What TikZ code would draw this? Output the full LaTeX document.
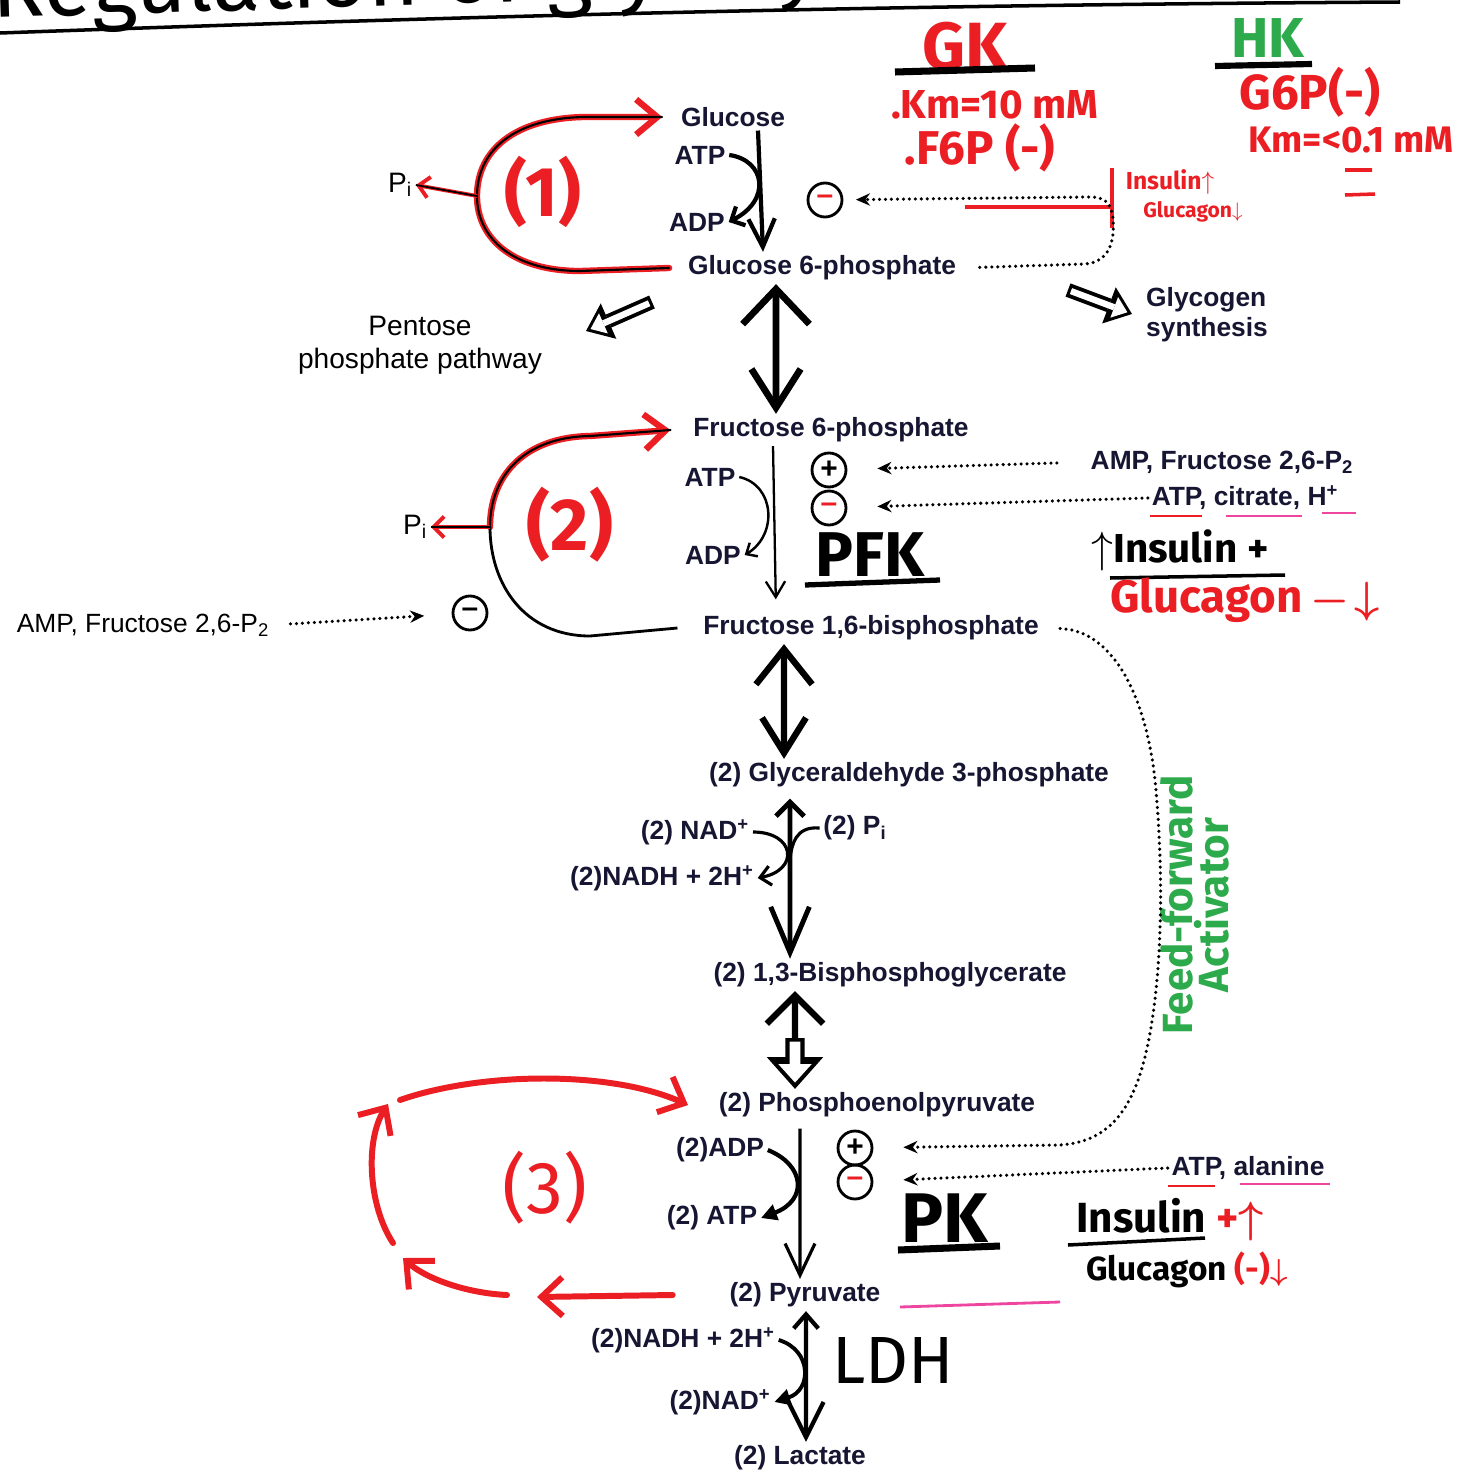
\documentclass[tikz,border=0pt]{standalone}
\usepackage{fontspec}
\setmainfont{Liberation Sans}
\newfontfamily\handfont{Fira Sans}
\usetikzlibrary{arrows.meta}

\definecolor{ink}{RGB}{22,22,50}
\definecolor{marker}{RGB}{235,30,35}
\definecolor{leaf}{RGB}{45,170,75}
\definecolor{pinkmark}{RGB}{238,70,160}

\tikzset{
	metab/.style={font=\fontsize{15}{17}\selectfont\bfseries, text=ink, inner sep=2pt},
	plain/.style={font=\fontsize{16}{19}\selectfont, inner sep=2pt},
	hand/.style={font=\handfont\bfseries\fontsize{#1}{#1}\selectfont, inner sep=0pt},
	handthin/.style={font=\handfont\fontsize{#1}{#1}\selectfont, inner sep=0pt},
	sign/.style={circle, draw, line width=1.6pt, minimum size=0.68cm, inner sep=0pt, font=\fontsize{17}{17}\selectfont\bfseries},
	reg/.style={line width=2pt, dash pattern=on 0pt off 3.4pt, line cap=round, -{Stealth[length=8pt,width=7pt]}},
	loopline/.style={marker, line width=3.6pt, line cap=round, -{Straight Barb[length=12pt,width=20pt]}, postaction={draw=black, line width=1.2pt, -}},
	piarrow/.style={marker, line width=2.2pt, -{Straight Barb[length=6pt,width=12pt]}, postaction={draw=black, line width=1pt, -}},
	cycarrow/.style={marker, line width=3.4pt, line cap=round, -{Straight Barb[length=12pt,width=22pt]}},
	blockarrow/.style={line width=8pt, -{Triangle[length=14pt,width=22pt,line width=0pt]}, postaction={draw=white, line width=3.6pt, shorten <=1.8pt, shorten >=2.8pt, -{Triangle[length=8pt,width=12.5pt,line width=0pt]}}},
	bigblock/.style={line width=11pt, -{Triangle[length=18pt,width=32pt,line width=0pt]}, postaction={draw=white, line width=6pt, shorten <=2pt, shorten >=3.6pt, -{Triangle[length=10.5pt,width=19pt,line width=0pt]}}},
}

\begin{document}
\begin{tikzpicture}[x=0.02cm, y=-0.02cm]
	\fill[white] (0,0) rectangle (1481,1477);
	\useasboundingbox (0,0) rectangle (1481,1477);

	\node[handthin=50, anchor=base west, rotate=1.8] (title) at (-8,18) {Regulation of glycolysis};
	\draw[line width=2pt] (0,33) .. controls (500,15) and (900,5) .. (1400,2);

	\node[metab] (glc) at (733,117) {Glucose};
	\node[metab] (atpa) at (700,155) {ATP};
	\node[metab] (adpa) at (697,222) {ADP};
	\node[metab] (gsp) at (822,268) {Glucose 6-phosphate};
	\node[plain] (pia) at (400,185) {P\textsubscript{i}};
	\node[plain, align=center] (ppp) at (420,345) {Pentose\\phosphate pathway};
	\node[metab, align=left] (gly) at (1207,315) {Glycogen\\synthesis};
	\node[sign] (gkm) at (825,200) {\textcolor{marker}{--}};

	\node[hand=38, text=marker] (gk) at (965,46) {GK};
	\draw[line width=4pt] (895,72) -- (1035,68);
	\node[hand=23, text=marker] (gkkm) at (995,105) {.Km=10 mM};
	\node[hand=27, text=marker] (gkfp) at (980,148) {.F6P (-)};
	\node[hand=32, text=leaf] (hk) at (1268,38) {HK};
	\draw[line width=3.5pt] (1215,66) -- (1312,64);
	\node[hand=28, text=marker] (hkgp) at (1310,92) {G6P(-)};
	\node[hand=21, text=marker] (hkkm) at (1351,140) {Km=<0.1 mM};
	\draw[marker, line width=2pt] (1345,170) -- (1372,170) (1345,195) -- (1375,194);
	\node[hand=14, text=marker] (insa) at (1170,182) {Insulin$\uparrow$};
	\node[hand=12, text=marker] (glua) at (1193,212) {Glucagon$\downarrow$};
	\draw[marker, line width=2pt] (965,207) -- (1110,207) (1112,168) -- (1112,228);

	\node[metab] (fsp) at (831,430) {Fructose 6-phosphate};
	\node[metab] (atpb) at (710,477) {ATP};
	\node[metab] (adpb) at (713,555) {ADP};
	\node[metab] (fbp) at (871,628) {Fructose 1,6-bisphosphate};
	\node[plain] (pib) at (415,527) {P\textsubscript{i}};
	\node[plain, font=\fontsize{15}{17}\selectfont] (ampb) at (143,625) {AMP, Fructose 2,6-P\textsubscript{2}};
	\node[sign] (fbpm) at (470,613) {--};
	\node[sign] (pfkp) at (829,470) {+};
	\node[sign] (pfkm) at (829,508) {\textcolor{marker}{--}};
	\node[metab] (pfkact) at (1222,462) {AMP, Fructose 2,6-P\textsubscript{2}};
	\node[metab] (pfkinh) at (1245,498) {ATP, citrate, H\textsuperscript{+}};
	\draw[marker, line width=1.6pt] (1150,516) -- (1202,516);
	\draw[pinkmark, line width=1.6pt] (1226,516) -- (1302,516) (1322,513) -- (1356,513);
	\node[hand=36] (pfk) at (870,555) {PFK};
	\draw[line width=3pt] (805,585) -- (940,580);
	\node[hand=23] (insb) at (1180,550) {$\uparrow$Insulin +};
	\draw[line width=2pt] (1110,578) -- (1285,575);
	\node[hand=26, text=marker] (glub) at (1245,600) {Glucagon\,{\boldmath$-\!\downarrow$}};

	\node[metab] (gap) at (909,775) {(2) Glyceraldehyde 3-phosphate};
	\node[metab] (nada) at (695,832) {(2) NAD\textsuperscript{+}};
	\node[metab] (pic) at (855,828) {(2) P\textsubscript{i}};
	\node[metab] (nadha) at (662,878) {(2)NADH + 2H\textsuperscript{+}};
	\node[metab] (bpg) at (890,975) {(2) 1,3-Bisphosphoglycerate};
	\node[metab] (pep) at (877,1105) {(2) Phosphoenolpyruvate};
	\node[metab] (adpc) at (720,1150) {(2)ADP};
	\node[metab] (atpc) at (712,1218) {(2) ATP};
	\node[sign] (pkp) at (855,1148) {+};
	\node[sign] (pkm) at (855,1182) {\textcolor{marker}{--}};
	\node[metab] (pkinh) at (1248,1168) {ATP, alanine};
	\draw[marker, line width=1.6pt] (1168,1186) -- (1215,1186);
	\draw[pinkmark, line width=1.6pt] (1240,1184) -- (1330,1184);
	\node[hand=40] (pk) at (945,1218) {PK};
	\draw[line width=4pt] (898,1250) -- (1000,1246);
	\node[hand=24, anchor=west] (insc) at (1076,1220) {Insulin \textcolor{marker}{+{\boldmath$\uparrow$}}};
	\draw[line width=2pt] (1068,1245) -- (1205,1238);
	\node[hand=19, anchor=west] (gluc) at (1086,1270) {Glucagon \textcolor{marker}{(-){\boldmath$\downarrow$}}};
	\node[metab] (pyr) at (805,1295) {(2) Pyruvate};
	\draw[pinkmark, line width=1.6pt] (900,1307) -- (1060,1302);
	\node[metab] (nadhb) at (683,1340) {(2)NADH + 2H\textsuperscript{+}};
	\node[metab] (nadb) at (720,1402) {(2)NAD\textsuperscript{+}};
	\node[handthin=38] (ldh) at (893,1360) {LDH};
	\node[metab] (lac) at (800,1458) {(2) Lactate};

	\node[hand=24, text=leaf, rotate=90] (ffa) at (1177,905) {Feed-forward};
	\node[hand=24, text=leaf, rotate=90] (ffb) at (1212,905) {Activator};

	\node[hand=40, text=marker] (ca) at (543,192) {(1)};
	\node[hand=42, text=marker] (cb) at (570,525) {(2)};
	\node[handthin=42, text=marker] (cc) at (545,1188) {(3)};

	\draw[line width=2.4pt, -{Straight Barb[length=16pt,width=15pt]}] ([xshift=0.5cm]glc.south) -- ([xshift=-1.18cm]gsp.north);
	\draw[line width=2.4pt, -{Straight Barb[length=6pt,width=12pt]}] (atpa.east) .. controls (765,160) and (772,200) .. (adpa.east);
	\draw[line width=3.8pt, {Straight Barb[length=20pt,width=38pt]}-{Straight Barb[length=22pt,width=28pt]}] ([xshift=-0.92cm]gsp.south) -- ([xshift=-1.1cm]fsp.north);
	\draw[line width=1.3pt, -{Straight Barb[length=9pt,width=11pt]}, shorten >=0.25cm] ([xshift=-1.16cm]fsp.south) -- ([xshift=-1.9cm]fbp.north);
	\draw[line width=1.4pt, -{Straight Barb[length=5pt,width=9pt]}] (atpb.east) .. controls (775,485) and (778,535) .. (adpb.east);
	\draw[line width=3.6pt, {Straight Barb[length=20pt,width=32pt]}-{Straight Barb[length=20pt,width=25pt]}] ([xshift=-1.74cm]fbp.south) -- ([xshift=-2.5cm]gap.north);
	\draw[line width=2.8pt, {Straight Barb[length=8pt,width=16pt]}-{Straight Barb[length=26pt,width=22pt]}, shorten <=0.15cm] ([xshift=-2.38cm]gap.south) -- ([xshift=-2cm]bpg.north);
	\coordinate (gapjoin) at (790,858);
	\draw[line width=1.8pt, -{Straight Barb[length=6pt,width=11pt]}] (nada.east) .. controls (795,832) and (800,870) .. (nadha.east);
	\draw[line width=1.8pt] (pic.west) .. controls (795,826) and (792,845) .. (gapjoin);
	\coordinate (bpgmid) at (795,1038);
	\draw[line width=3.5pt, -{Straight Barb[length=16pt,width=32pt]}] (bpgmid) -- ([xshift=-1.9cm]bpg.south);
	\draw[bigblock] (bpgmid) -- ([xshift=-1.64cm]pep.north);
	\draw[line width=1.8pt, -{Straight Barb[length=18pt,width=17pt]}, shorten <=0.15cm] ([xshift=-1.54cm]pep.south) -- ([xshift=-0.1cm]pyr.north);
	\draw[line width=2.4pt, -{Triangle[length=9pt,width=9pt]}] (adpc.east) .. controls (805,1165) and (808,1200) .. (atpc.east);
	\draw[line width=2.4pt, {Straight Barb[length=8pt,width=14pt]}-{Straight Barb[length=20pt,width=20pt]}] ([xshift=0.02cm]pyr.south) -- ([xshift=0.12cm]lac.north);
	\draw[line width=2.2pt, -{Triangle[length=9pt,width=9pt]}] (nadhb.east) .. controls (812,1350) and (812,1390) .. (nadb.east);

	\coordinate (pppa) at (652,302);
	\coordinate (pppb) at (586,331);
	\coordinate (glya) at (1068,290);
	\coordinate (glyb) at (1132,314);
	\draw[blockarrow] (pppa) -- (pppb);
	\draw[blockarrow] (glya) -- (glyb);

	\coordinate (loopa) at (477,196);
	\coordinate (loopb) at (490,527);
	\draw[loopline] ([xshift=-0.3cm]gsp.west) -- (580,271) .. controls (515,271) and (477,240) .. (loopa) .. controls (477,150) and (515,118) .. (585,117) -- ([xshift=-0.3cm]glc.west);
	\draw[piarrow] (loopa) -- (pia.east);
	\draw[loopline] (loopb) .. controls (490,475) and (525,437) .. (590,436) -- ([xshift=-0.38cm]fsp.west);
	\draw[line width=1.6pt] ([xshift=-0.44cm]fbp.west) -- (590,636) .. controls (525,636) and (490,585) .. (loopb);
	\draw[piarrow] (loopb) -- (pib.east);

	\coordinate (cyca) at (400,1100);
	\coordinate (cycb) at (393,1243);
	\coordinate (cycc) at (388,1104);
	\coordinate (cycd) at (507,1295);
	\coordinate (cyce) at (403,1258);
	\coordinate (cycf) at (537,1297);
	\draw[cycarrow] (cyca) .. controls (480,1072) and (610,1070) .. ([xshift=-0.54cm]pep.west);
	\draw[cycarrow] (cycb) .. controls (368,1205) and (365,1140) .. (cycc);
	\draw[cycarrow] (cycd) .. controls (465,1293) and (425,1278) .. (cyce);
	\draw[cycarrow] ([xshift=-1.06cm]pyr.west) -- (cycf);

	\draw[reg, shorten <=0.4cm, shorten >=0.25cm] (gsp.east) -- (1085,264) .. controls (1110,262) and (1115,240) .. (1113,218) .. controls (1111,203) and (1105,197) .. (1090,197) -- (gkm);
	\draw[reg, shorten <=0.6cm, shorten >=0.6cm] (pfkact.west) -- (pfkp);
	\draw[reg, shorten >=0.6cm] (pfkinh.west) -- (pfkm);
	\draw[reg, shorten <=0.35cm, shorten >=0.55cm] (ampb.east) -- (fbpm);
	\draw[reg, shorten <=0.35cm, shorten >=0.6cm] (fbp.east) .. controls (1110,630) and (1145,690) .. (1155,780) .. controls (1165,880) and (1162,1000) .. (1142,1068) .. controls (1128,1115) and (1105,1142) .. (1060,1145) -- (pkp);
	\draw[reg, shorten >=0.6cm] (pkinh.west) -- (pkm);
\end{tikzpicture}
\end{document}
